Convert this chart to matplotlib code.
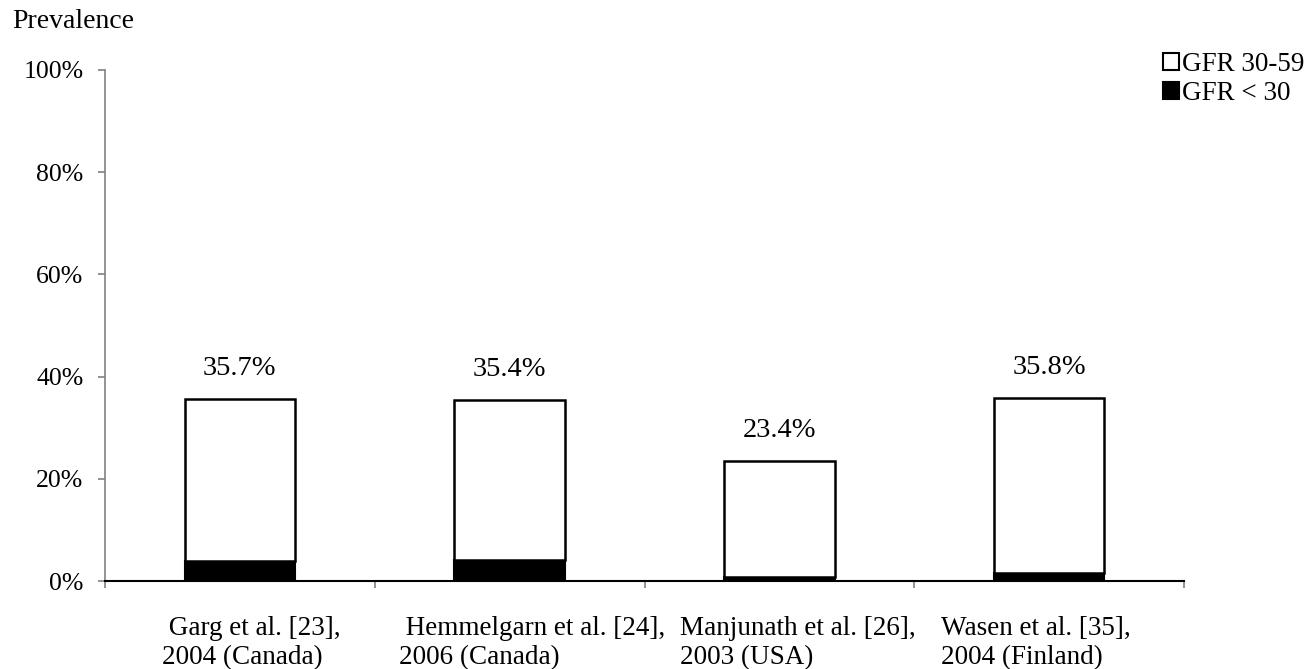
import matplotlib
matplotlib.use("Agg")
import matplotlib.pyplot as plt
from matplotlib.patches import Patch
import numpy as np

plt.rcParams['font.family'] = ['Liberation Serif', 'DejaVu Serif']

categories = [" Garg et al. [23],\n2004 (Canada)",
              " Hemmelgarn et al. [24],\n2006 (Canada)",
              "Manjunath et al. [26],\n2003 (USA)",
              "Wasen et al. [35],\n2004 (Finland)"]
total = [35.7, 35.4, 23.4, 35.8]
gfr_lt30 = [4.0, 4.2, 0.8, 1.5]
gfr_30_59 = [t - b for t, b in zip(total, gfr_lt30)]
total_labels = ["35.7%", "35.4%", "23.4%", "35.8%"]
yticks = [0, 20, 40, 60, 80, 100]
ytick_labels = ["0%", "20%", "40%", "60%", "80%", "100%"]
# left-edge offsets of category labels (relative to category centre)
label_offsets = [-0.29, -0.41, -0.37, -0.40]

fig = plt.figure(figsize=(13.15, 6.69), dpi=100)
ax = fig.add_axes([105/1315, 88/669, 1079/1315, 511/669])

x = np.arange(len(categories))
w = 0.41
ax.bar(x, gfr_lt30, w, color='black', edgecolor='black', linewidth=1.5, zorder=3)
ax.bar(x, gfr_30_59, w, bottom=gfr_lt30, color='white', edgecolor='black', linewidth=1.8, zorder=3)

for xi, t, lab in zip(x, total, total_labels):
    ax.annotate(lab, (xi, t), xytext=(0, 17.3), textcoords='offset points',
                ha='center', va='baseline', fontsize=20.5)

ax.set_xlim(-0.5, len(categories) - 0.5)
ax.set_ylim(0, 100)
ax.set_yticks(yticks)
ax.set_yticklabels(ytick_labels, fontsize=18.5)
ax.set_xticks(np.arange(len(categories) + 1) - 0.5)
ax.set_xticklabels([])
ax.tick_params(axis='y', direction='out', length=5, width=1.2, color='#808080', pad=10.5)
ax.tick_params(axis='x', direction='out', length=5, width=1.2, color='#808080')

for s in ['top', 'right']:
    ax.spines[s].set_visible(False)
ax.spines['left'].set_color('#808080')
ax.spines['left'].set_linewidth(1.2)
ax.spines['bottom'].set_color('black')
ax.spines['bottom'].set_linewidth(1.5)

for xi, lab, off in zip(x, categories, label_offsets):
    ax.annotate(lab, (xi + off, 0), xycoords=('data', 'axes fraction'),
                xytext=(0, -25), textcoords='offset points',
                ha='left', va='top', fontsize=19.5, linespacing=1.25)

fig.text(12/1315, 1 - 22/669, "Prevalence", fontsize=20, ha='left', va='center')

handles = [Patch(facecolor='white', edgecolor='black', linewidth=1.5),
           Patch(facecolor='black', edgecolor='black', linewidth=1.5)]
fig.legend(handles, ["GFR 30-59", "GFR < 30"], loc='upper left',
           bbox_to_anchor=(1163/1315, 1 - 52/669), frameon=False, fontsize=19.5,
           handlelength=0.6, handleheight=0.6, handletextpad=0.12,
           labelspacing=0.15, borderpad=0, borderaxespad=0)

fig.savefig("out.png", dpi=100)
